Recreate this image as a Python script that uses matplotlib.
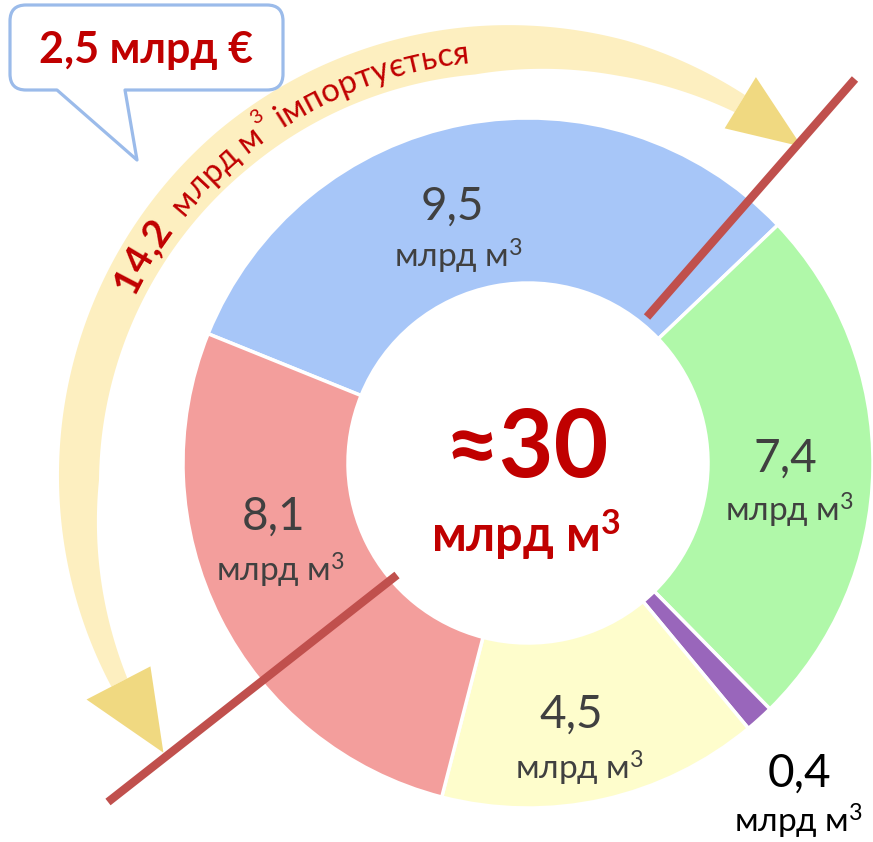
import numpy as np
import matplotlib.pyplot as plt
from matplotlib.path import Path
from matplotlib.patches import PathPatch, Polygon
from matplotlib.font_manager import FontProperties, findfont, get_font

# canvas size in pixels (data units = pixels, y goes up)
W, H = 873, 842

# gas balance, bln m3
values = [9.5, 7.4, 0.4, 4.5, 8.1]
colors = ['#A7C6F8', '#B0F8A9', '#9966BB', '#FEFDCC', '#F39E9C']
unit = r'млрд м$^{3}$'
unit_bold = r'млрд м$^{\mathbf{3}}$'
total_label = '≈30'
import_value = '14,2'
import_parts = ['млрд м', '3', ' імпортується']   # middle part is a superscript
cost_label = '2,5 млрд €'

RED = '#C00000'
GREY = '#404040'


def pick_family():
    # Lato looks closest to Calibri, but only if it has cyrillic glyphs
    for fam in ['Lato', 'Open Sans', 'Noto Sans']:
        try:
            f = get_font(findfont(FontProperties(family=fam), fallback_to_default=False))
            if f.get_char_index(ord('м')) != 0:
                return fam
        except Exception:
            pass
    return 'DejaVu Sans'


FAM = pick_family()
plt.rcParams['font.family'] = [FAM, 'DejaVu Sans']
plt.rcParams['mathtext.fontset'] = 'custom'
plt.rcParams['mathtext.rm'] = FAM
plt.rcParams['mathtext.bf'] = FAM + ':bold'
plt.rcParams['mathtext.it'] = FAM + ':italic'


def px(x, y):
    # pixel position (y down) -> data position
    return x, H - y


fig = plt.figure(figsize=(W / 100, H / 100), dpi=100)
ax = fig.add_axes([0, 0, 1, 1])

# donut
wedges, _ = ax.pie(values, colors=colors, startangle=158, counterclock=False,
                   radius=345, center=px(528, 463),
                   wedgeprops=dict(width=165, edgecolor='white', linewidth=2.5))
for w in wedges:
    w.set_zorder(3)

# segment labels: (number x, baseline y), (unit x, baseline y)
label_pos = [((452, 220), (459, 268)),
             ((785, 472), (790, 522)),
             ((799, 787), (799, 833)),
             ((571, 728), (580, 780)),
             ((274, 530), (281, 582))]
label_col = [GREY, GREY, 'black', GREY, GREY]
for v, (p1, p2), c in zip(values, label_pos, label_col):
    ax.text(*px(*p1), f'{v:.1f}'.replace('.', ','), ha='center', va='baseline',
            fontsize=33, color=c, zorder=6)
    ax.text(*px(*p2), unit, ha='center', va='baseline', fontsize=24, color=c, zorder=6)

# centre total
ax.text(*px(527, 477), total_label, ha='center', va='baseline', fontsize=68,
        fontweight='bold', color=RED, zorder=6)
ax.text(*px(526, 552), unit_bold, ha='center', va='baseline', fontsize=35,
        fontweight='bold', color=RED, zorder=6)

# curved import arrow around the left side
bc = np.array(px(510, 480))


def polar(th_deg, r):
    t = np.radians(th_deg)
    return np.column_stack([bc[0] + r * np.cos(t), bc[1] + r * np.sin(t)])


th = np.linspace(58.6, 207.4, 300)
bw = np.interp(th, [58.6, 75, 95, 130, 180, 207.4], [20, 36, 48, 48, 40, 18])
rc = np.interp(th, [58.6, 95, 180, 207.4], [441, 431, 431, 440])
band = np.vstack([polar(th, rc + bw / 2), polar(th[::-1], (rc - bw / 2)[::-1])])
ax.add_patch(Polygon(band, closed=True, facecolor='#FDEFC0', edgecolor='none', zorder=1))

head_r = np.vstack([polar(58.6, 472), polar(48.8, 443), polar(58.6, 412)])
head_l = np.vstack([polar(207.4, 477), polar(218.2, 441), polar(207.4, 405)])
for hd in (head_r, head_l):
    ax.add_patch(Polygon(hd, closed=True, facecolor='#F0D77A', edgecolor='none',
                         alpha=0.95, zorder=2))

# text along the arc, one glyph at a time: (char, weight, size, rise as share of size)
renderer = fig.canvas.get_renderer()
chars = [(c, 'bold', 25, 0) for c in import_value] + [(' ', 'normal', 21, 0)] * 2
chars += [(c, 'normal', 21, 0) for c in import_parts[0]]
chars += [(c, 'normal', 21 * 0.62, 0.55) for c in import_parts[1]]
chars += [(c, 'normal', 21, 0) for c in import_parts[2]]


def advance(c, weight, size):
    prop = FontProperties(family=[FAM, 'DejaVu Sans'], weight=weight, size=size)
    a = renderer.get_text_width_height_descent('H' + c + 'H', prop, False)[0]
    b = renderer.get_text_width_height_descent('HH', prop, False)[0]
    return a - b


r_base = 419
th0, th1 = 154.0, 95.5
target = np.radians(th0 - th1) * r_base
length = sum(advance(c, wt, sz) for c, wt, sz, _ in chars)
k = target / length
s = 0.0
for c, wt, sz, rise in chars:
    a = advance(c, wt, sz * k)
    tm = th0 - np.degrees((s + a / 2) / r_base)
    x, y = polar(tm, r_base + rise * 21 * k * 100 / 72)[0]
    if c != ' ':
        ax.text(x, y, c, ha='center', va='baseline', rotation=tm - 90,
                rotation_mode='anchor', fontsize=sz * k, fontweight=wt,
                color=RED, zorder=6)
    s += a

# red cut lines
ax.plot([647, 855], [H - 317, H - 79], color='#C0504D', lw=6, solid_capstyle='butt', zorder=5)
ax.plot([397, 108], [H - 575, H - 802], color='#C0504D', lw=6, solid_capstyle='butt', zorder=5)

# speech bubble with the cost
l, r, t, b, cr = 10, 283, 5, 90, 16
pts = [(l + cr, t), (r - cr, t), (r, t), (r, t + cr), (r, b - cr), (r, b), (r - cr, b),
       (125, b), (137, 160), (57, b), (l + cr, b), (l, b), (l, b - cr), (l, t + cr),
       (l, t), (l + cr, t), (l + cr, t)]
codes = [Path.MOVETO, Path.LINETO, Path.CURVE3, Path.CURVE3, Path.LINETO, Path.CURVE3,
         Path.CURVE3, Path.LINETO, Path.LINETO, Path.LINETO, Path.LINETO, Path.CURVE3,
         Path.CURVE3, Path.LINETO, Path.CURVE3, Path.CURVE3, Path.CLOSEPOLY]
bubble = Path([px(*p) for p in pts], codes)
ax.add_patch(PathPatch(bubble, facecolor='white', edgecolor='#9BBBEA', lw=2.3,
                       joinstyle='round', zorder=4))
ax.text(*px(146, 63), cost_label, ha='center', va='baseline', fontsize=31,
        fontweight='bold', color=RED, zorder=6)

ax.set_xlim(0, W)
ax.set_ylim(0, H)
ax.set_aspect('equal')
ax.axis('off')

fig.savefig('out.png', dpi=100)
